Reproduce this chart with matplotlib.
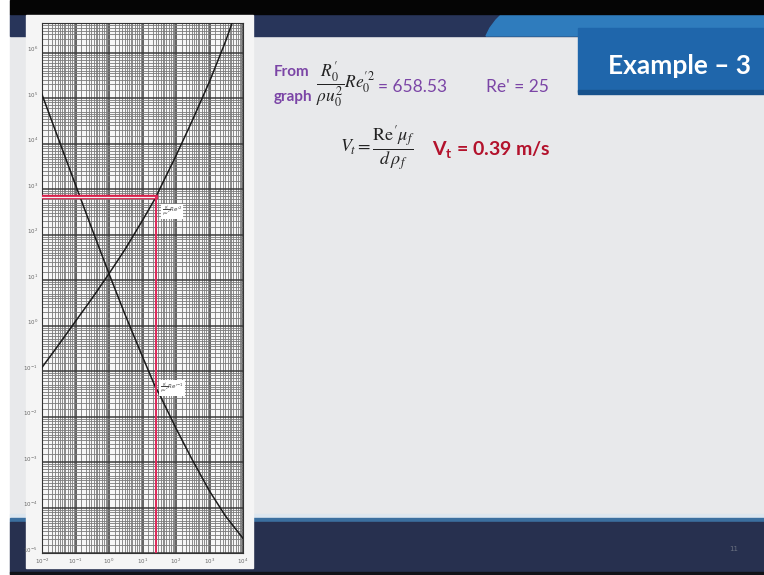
import numpy as np
import matplotlib
matplotlib.use("Agg")
import matplotlib.pyplot as plt
import matplotlib.transforms as mtransforms
from matplotlib.patches import Rectangle, Polygon
from matplotlib.ticker import LogLocator, NullFormatter, FixedLocator

# Re' values read along both curves of the drag chart
re_vals = [0.01, 0.03, 0.1, 0.3, 1, 3, 10, 25, 30, 100, 300, 1000, 3000, 10000]
# (R'/rho u^2) Re'^2
curve_up = [0.12, 0.36, 1.24, 3.8, 13.8, 47, 205, 658.53, 880, 5400, 3.1e4, 2.3e5, 1.75e6, 2.1e7]
# (R'/rho u^2) Re'^-1
curve_down = [1.2e5, 1.35e4, 1240, 142, 13.8, 1.76, 0.207, 0.042, 0.034, 0.0055, 1.15e-3, 2.3e-4, 6.5e-5, 2.1e-5]

x_decades = [1e-2, 1e-1, 1, 1e1, 1e2, 1e3, 1e4]
y_decades = [1e-5, 1e-4, 1e-3, 1e-2, 1e-1, 1, 1e1, 1e2, 1e3, 1e4, 1e5, 1e6]

re_read = 25
group_read = 658.53
v_t = 0.39

W, H = 764, 575
fig = plt.figure(figsize=(W / 100, H / 100), dpi=100)
sans = ["Lato", "DejaVu Sans"]

# slide background drawn in pixel coordinates
bg = fig.add_axes([0, 0, 1, 1])
bg.set_xlim(0, W)
bg.set_ylim(H, 0)
bg.axis("off")
bg.add_patch(Rectangle((0, 0), W, H, color="white"))
bg.add_patch(Rectangle((10, 0), W - 10, H, color="#e8e9eb"))
bg.add_patch(Rectangle((10, 14), W - 10, 22, color="#28355a"))
swoosh = [(486, 36), (490, 28), (496, 20), (502, 14), (W, 14), (W, 36)]
bg.add_patch(Polygon(swoosh, closed=True, color="#2f7cbd"))
bg.add_patch(Rectangle((10, 0), W - 10, 14, color="#050505"))
bg.add_patch(Rectangle((578, 28), W - 578, 64, color="#1f66ab"))
bg.add_patch(Rectangle((578, 90), W - 578, 4, color="#17528c"))
bg.add_patch(Rectangle((10, 514), W - 10, 4, color="#dce6ef"))
bg.add_patch(Rectangle((10, 518), W - 10, 4, color="#3b6f9f"))
bg.add_patch(Rectangle((10, 522), W - 10, 51, color="#27304f"))
bg.add_patch(Rectangle((10, 572), W - 10, 3, color="#111318"))
# scanned chart sheet
bg.add_patch(Rectangle((26, 15), 227, 553, color="#f5f5f5"))

bg.text(680, 66, "Example \u2013 3", color="white", fontsize=19, fontweight="bold",
        family=sans, ha="center", va="center")
bg.text(734, 549, "11", color="#6a7080", fontsize=5, ha="center", va="center")

purple = "#7b45a6"
bg.text(274, 72, "From", color=purple, fontsize=11, fontweight="bold", family=sans, va="center")
bg.text(274, 97, "graph", color=purple, fontsize=11, fontweight="bold", family=sans, va="center")
bg.text(316, 84, r"$\dfrac{R_0^{\prime}}{\rho u_0^2}Re_0^{\prime 2}$", fontsize=12.5, color="#222",
        math_fontfamily="stix", va="center")
bg.text(378, 87, "= %.2f" % group_read, color=purple, fontsize=12.5, family=sans, va="center")
bg.text(486, 87, "Re' = %d" % re_read, color=purple, fontsize=12.5, family=sans, va="center")
bg.text(340, 148, r"$V_t = \dfrac{\mathrm{Re}^{\prime}\mu_f}{d\,\rho_f}$", fontsize=13, color="#222",
        math_fontfamily="stix", va="center")
bg.text(432, 150, r"V$_\mathregular{t}$ = %.2f m/s" % v_t, color="#b3122c", fontsize=14,
        fontweight="bold", family=sans, va="center")

# log-log drag chart
ax = fig.add_axes([42 / W, 1 - 553 / H, (243 - 42) / W, (553 - 23) / H])
ax.set_facecolor("#f7f7f7")
ax.set_xscale("log")
ax.set_yscale("log")
ax.set_xlim(1e-2, 1e4)
ax.set_ylim(1e-5, 10 ** 6.65)
subs = [1.5, 2, 2.5, 3, 3.5, 4, 4.5, 5, 6, 7, 8, 9]
ax.xaxis.set_major_locator(FixedLocator(x_decades))
ax.yaxis.set_major_locator(FixedLocator(y_decades))
for axis in (ax.xaxis, ax.yaxis):
    axis.set_minor_locator(LogLocator(base=10, subs=subs, numticks=300))
    axis.set_minor_formatter(NullFormatter())
ax.grid(which="major", color="#3a3a3a", lw=1.1)
ax.grid(which="minor", color="#7a7a7a", lw=0.6)
ax.set_axisbelow(True)
ax.tick_params(which="both", length=0, labelsize=4, colors="#666666", pad=3)
for sp in ax.spines.values():
    sp.set_color("#333333")
    sp.set_linewidth(0.8)

# y labels on the sheet sit a little above their lines
lift = mtransforms.ScaledTranslation(0, 4 / 100, fig.dpi_scale_trans)
for lab in ax.get_yticklabels():
    lab.set_transform(lab.get_transform() + lift)

ax.plot(re_vals, curve_up, color="#1a1a1a", lw=1.1, zorder=3)
ax.plot(re_vals, curve_down, color="#1a1a1a", lw=1.1, zorder=3)

# reading lines
ax.plot([1e-2, re_read], [group_read, group_read], color="#d81e4a", lw=3.2, zorder=4)
ax.plot([1e-2, re_read], [group_read, group_read], color="#f3f3f3", lw=0.9, zorder=4)
ax.plot([re_read, re_read], [1e-5, group_read], color="#e0285a", lw=1.4, zorder=4)

ax.text(38, 300, r"$\frac{R'}{\rho u^2}Re'^2$", fontsize=4, color="#444", zorder=5,
        bbox=dict(facecolor="white", edgecolor="none", pad=0.8))
ax.text(33, 4e-2, r"$\frac{R'}{\rho u^2}Re'^{-1}$", fontsize=4, color="#444", zorder=5,
        bbox=dict(facecolor="white", edgecolor="none", pad=0.8))

fig.savefig("out.png", dpi=100)
